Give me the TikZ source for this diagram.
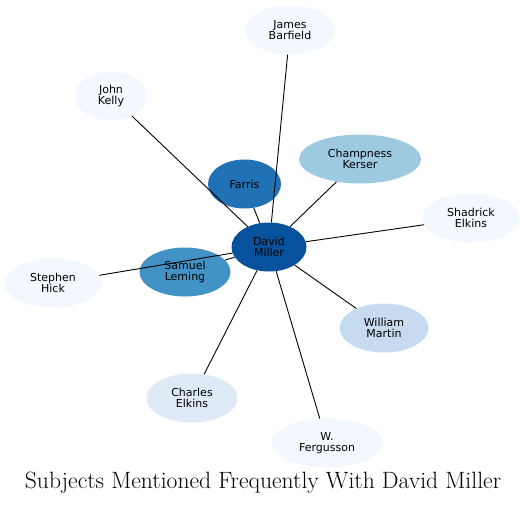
\documentclass[tikz,border=0pt]{standalone}
\usepackage{fontspec}
\setsansfont{DejaVu Sans}
\usetikzlibrary{shapes.geometric}
\definecolor{blueA}{RGB}{8,81,156}
\definecolor{blueB}{RGB}{33,113,181}
\definecolor{blueC}{RGB}{66,146,198}
\definecolor{blueD}{RGB}{158,202,225}
\definecolor{blueE}{RGB}{198,219,239}
\definecolor{blueF}{RGB}{222,235,247}
\definecolor{blueG}{RGB}{243,248,254}

\begin{document}
\begin{tikzpicture}[x=1pt, y=-1pt,
  person/.style={ellipse, draw=none, inner sep=0pt, minimum height=49pt, align=center,
    font=\sffamily\fontsize{11}{11.5}\selectfont},
  link/.style={line width=0.9pt, black}]
  \useasboundingbox (0,0) rectangle (526,504);

  % centre
  \node[person, fill=blueA, minimum width=75pt] (miller) at (269,247) {David\\Miller};

  % others
  \node[person, fill=blueB, minimum width=73pt] (farris) at (244.5,184) {Farris};
  \node[person, fill=blueD, minimum width=122pt] (kerser) at (360,159) {Champness\\Kerser};
  \node[person, fill=blueG, minimum width=90pt] (barfield) at (290,30) {James\\Barfield};
  \node[person, fill=blueG, minimum width=72pt] (kelly) at (111,96) {John\\Kelly};
  \node[person, fill=blueG, minimum width=97pt] (shadrick) at (471,218) {Shadrick\\Elkins};
  \node[person, fill=blueG, minimum width=97pt] (hick) at (53,283) {Stephen\\Hick};
  \node[person, fill=blueC, minimum width=91pt] (leming) at (185,272) {Samuel\\Leming};
  \node[person, fill=blueE, minimum width=89pt] (martin) at (384,328) {William\\Martin};
  \node[person, fill=blueF, minimum width=91pt] (charles) at (192,398) {Charles\\Elkins};
  \node[person, fill=blueG, minimum width=112pt] (fergusson) at (327,443) {W.\\Fergusson};

  % links
  \foreach \p in {farris,kerser,barfield,kelly,shadrick,hick,leming,martin,charles,fergusson}
    \draw[link] (miller) -- (\p);

  % title
  \node[font=\fontsize{23.6}{27}\selectfont] (title) at (263,483) {Subjects Mentioned Frequently With David Miller};
\end{tikzpicture}
\end{document}
